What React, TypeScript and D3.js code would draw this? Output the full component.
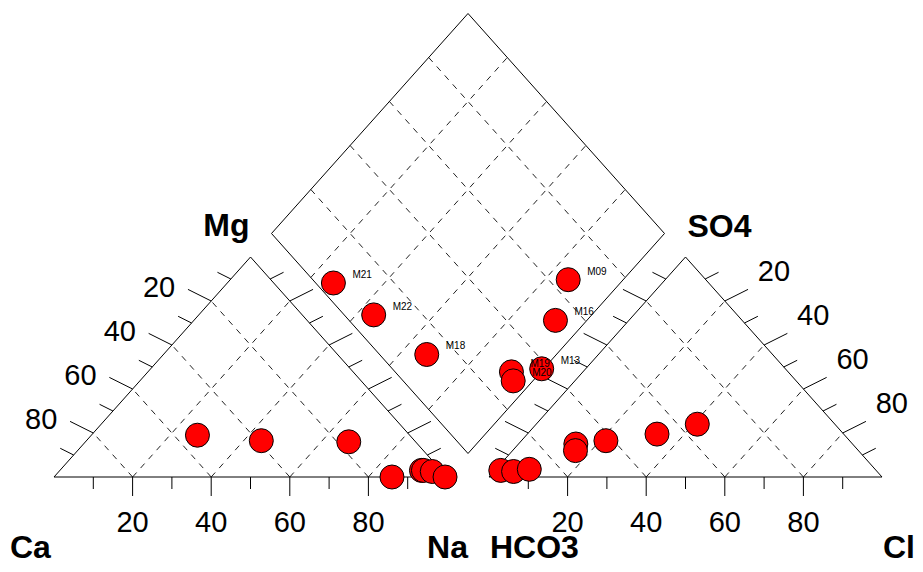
import React from 'react';
import * as d3 from 'd3';

// sample names and their ionic percentages (meq %)
const samples = ['M21', 'M22', 'M18', 'M09', 'M16', 'M19', 'M20', 'M13'];
const ca = [54, 39, 17, 14, 5, 4.5, 2.5, 0.5];
const mg = [19, 16.5, 16, 0, 3, 3, 2.5, 0];
const na = [27, 44.5, 67, 86, 92, 92.5, 95, 99.5];
const hco3 = [95.5, 92.5, 88, 35, 47.5, 70.4, 72, 62];
const so4 = [3, 2.5, 3.5, 24, 19.5, 15, 12, 16.5];
const cl = [1.5, 5, 8.5, 41, 33, 14.6, 16, 21.5];

const gridValues = [20, 40, 60, 80];
const tickValues = [10, 20, 30, 40, 50, 60, 70, 80, 90];
const tickLabels = ['20', '40', '60', '80'];

const width = 923;
const height = 572;
const side = 393;
const triH = 220;
const gap = 42;
const baseY = 477;
const leftX = 54;
const rightX = leftX + side + gap;
const font = '"Liberation Sans", Arial, sans-serif';

const xL = d3.scaleLinear().domain([0, 100]).range([leftX, leftX + side]);
const xR = d3.scaleLinear().domain([0, 100]).range([rightX, rightX + side]);
const yT = d3.scaleLinear().domain([0, 100]).range([baseY, baseY - triH]);
const half = d3.scaleLinear().domain([0, 100]).range([0, side / 2]);

type Pt = [number, number];

// cation triangle: Na along the base, Mg to the top
const cation = (n: number, m: number): Pt => [xL(n) + half(m), yT(m)];
// anion triangle: Cl along the base, SO4 to the top
const anion = (c: number, s: number): Pt => [xR(c) + half(s), yT(s)];
// diamond: projection of both triangles
const diamond = (n: number, a: number): Pt => {
  const g = (gap / side) * 100;
  const yh = (a + 100 + g - n) / 2;
  return [xL(n + yh), yT(2 * yh)];
};

const line = d3.line<Pt>();
const tickDir = { left: [-0.894, -0.447], right: [0.894, -0.447] };

const Ticks = ({ pts, dir }: { pts: { p: Pt; v: number }[]; dir: number[] }) => (
  <g stroke="#000" strokeWidth={1}>
    {pts.map(({ p, v }) => {
      const len = v % 20 === 0 ? 26 : 15;
      return <line key={v} x1={p[0]} y1={p[1]} x2={p[0] + dir[0] * len} y2={p[1] + dir[1] * len} />;
    })}
  </g>
);

const App = () => {
  const triL: Pt[] = [cation(0, 0), cation(100, 0), cation(0, 100)];
  const triR: Pt[] = [anion(0, 0), anion(100, 0), anion(0, 100)];
  const dia: Pt[] = [diamond(100, 0), diamond(0, 0), diamond(0, 100), diamond(100, 100)];

  const grid: Pt[][] = [];
  gridValues.forEach((f) => {
    grid.push([cation(f, 0), cation(f, 100 - f)]);
    grid.push([cation(100 - f, 0), cation(0, 100 - f)]);
    grid.push([anion(f, 0), anion(f, 100 - f)]);
    grid.push([anion(100 - f, 0), anion(0, 100 - f)]);
    grid.push([diamond(f, 0), diamond(f, 100)]);
    grid.push([diamond(0, f), diamond(100, f)]);
  });

  const cPts = samples.map((_, i) => cation(na[i], mg[i]));
  const aPts = samples.map((_, i) => anion(cl[i], so4[i]));
  const dPts = samples.map((_, i) => diamond(na[i], so4[i] + cl[i]));

  const baseTickLen = (v: number) => (v % 20 === 0 ? 19 : 12);

  return (
    <svg width={width} height={height} style={{ position: 'absolute', left: 0, top: 0, background: '#fff' }}>
      <g fill="none" stroke="#222" strokeWidth={1} strokeDasharray="6,6">
        {grid.map((g, i) => <path key={i} d={line(g) || ''} />)}
      </g>
      <g fill="none" stroke="#000" strokeWidth={1}>
        <path d={line(triL) + 'Z'} />
        <path d={line(triR) + 'Z'} />
        <path d={line(dia) + 'Z'} />
      </g>

      {/* edge ticks */}
      <Ticks pts={tickValues.map((v) => ({ p: cation(0, 100 - v), v }))} dir={tickDir.left} />
      <Ticks pts={tickValues.map((v) => ({ p: cation(100 - v, v), v }))} dir={tickDir.right} />
      <Ticks pts={tickValues.map((v) => ({ p: anion(0, 100 - v), v }))} dir={tickDir.left} />
      <Ticks pts={tickValues.map((v) => ({ p: anion(v, 100 - v), v }))} dir={tickDir.right} />
      <g stroke="#000" strokeWidth={1}>
        {tickValues.map((v) => (
          <line key={'l' + v} x1={xL(v)} x2={xL(v)} y1={baseY} y2={baseY + baseTickLen(v)} />
        ))}
        {tickValues.map((v) => (
          <line key={'r' + v} x1={xR(v)} x2={xR(v)} y1={baseY} y2={baseY + baseTickLen(v)} />
        ))}
      </g>

      {/* tick labels */}
      <g fontFamily={font} fontSize={29} fill="#000">
        {gridValues.map((v, i) => (
          <text key={'bl' + v} x={xL(v)} y={baseY + 55} textAnchor="middle">{tickLabels[i]}</text>
        ))}
        {gridValues.map((v, i) => (
          <text key={'br' + v} x={xR(v)} y={baseY + 55} textAnchor="middle">{tickLabels[i]}</text>
        ))}
        {gridValues.map((v, i) => {
          const p = cation(0, 100 - v);
          return <text key={'el' + v} x={p[0] - 36} y={p[1] - 4} textAnchor="end">{tickLabels[i]}</text>;
        })}
        {gridValues.map((v, i) => {
          const p = anion(v, 100 - v);
          return <text key={'er' + v} x={p[0] + 33} y={p[1] - 20}>{tickLabels[i]}</text>;
        })}
      </g>

      {/* axis titles */}
      <g fontFamily={font} fontSize={32} fontWeight="bold" fill="#000">
        <text x={xL(0) - 44} y={baseY + 81}>Ca</text>
        <text x={xL(100) + 21} y={baseY + 81} textAnchor="end">Na</text>
        <text x={xR(0) + 1} y={baseY + 81}>HCO3</text>
        <text x={xR(100) + 1} y={baseY + 81}>Cl</text>
        <text x={cation(0, 100)[0] - 1} y={yT(100) - 21} textAnchor="end">Mg</text>
        <text x={anion(0, 100)[0] + 2} y={yT(100) - 20}>SO4</text>
      </g>

      {/* samples */}
      <g fill="#ff0000" stroke="#000" strokeWidth={1}>
        {cPts.map((p, i) => <circle key={'c' + i} cx={p[0]} cy={p[1]} r={12} />)}
        {aPts.map((p, i) => <circle key={'a' + i} cx={p[0]} cy={p[1]} r={12} />)}
        {dPts.map((p, i) => <circle key={'d' + i} cx={p[0]} cy={p[1]} r={12} />)}
      </g>
      <g fontFamily={font} fontSize={10} fill="#000">
        {dPts.map((p, i) => (
          <text key={'t' + i} x={p[0] + 19} y={p[1] - 5}>{samples[i]}</text>
        ))}
      </g>
    </svg>
  );
};

export default App;
